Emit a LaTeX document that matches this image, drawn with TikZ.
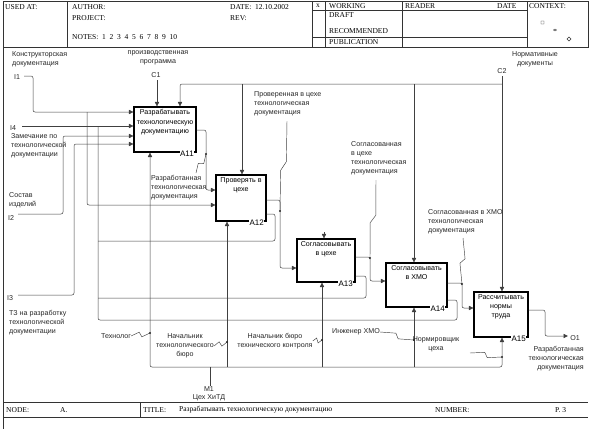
\documentclass[tikz,border=0pt]{standalone}
\usepackage{fontspec}
\setmainfont{Liberation Serif}
\newfontfamily\sansfam{Liberation Sans}
\usetikzlibrary{arrows.meta,calc,positioning}

\newcommand\lblsize{\sansfam\fontsize{7.1}{9.2}\selectfont}
\newcommand\formsize{\fontsize{7.5}{8}\selectfont}
\newcommand\squig[2]{\draw[squiggle] (#1) -- ($(#1)!0.45!(#2)!2.5pt!90:(#2)$) -- ($(#1)!0.55!(#2)!2.5pt!-90:(#2)$) -- (#2);}

\tikzset{
  frame/.style={draw=black!80, line width=0.6pt},
  fn/.style={draw=black, line width=1.1pt, inner sep=0pt, fill=white},
  fntext/.style={anchor=north, align=center, font=\lblsize, inner sep=0pt, yshift=-3pt},
  fnnum/.style={anchor=north east, font=\sansfam\fontsize{8}{8}\selectfont, inner sep=0.6pt, fill=white},
  line/.style={draw=black!75, line width=0.5pt, rounded corners=2pt},
  flow/.style={line, -{Triangle[length=4.5pt,width=4.2pt]}},
  squiggle/.style={draw=black!75, line width=0.45pt},
  lbl/.style={font=\lblsize, inner sep=0pt, text=black!85},
  form/.style={font=\formsize, inner sep=0pt, anchor=west},
  dot/.style={fill=black!85}
}

\begin{document}
\begin{tikzpicture}[x=1pt,y=-1pt]
\useasboundingbox (0,0) rectangle (590,429);

% form
\draw[frame] (3,1) rectangle (588,47);
\draw[frame] (67,1) -- (67,47) (312,1) -- (312,47) (325,1) -- (325,47) (402,1) -- (402,47) (527,1) -- (527,47);
\draw[frame] (312,10) -- (527,10) (312,37) -- (527,37);
\draw[frame] (3,47) -- (3,429);
\draw[frame] (3,402) -- (588,402) (3,417) -- (588,417) (140,402) -- (140,417);

\node[form] (usedat) at (5,7) {USED AT:};
\node[form] (author) at (72,7) {AUTHOR:};
\node[form] (date) at (230,7) {DATE:\ \ 12.10.2002};
\node[form] (project) at (72,18) {PROJECT:};
\node[form] (rev) at (230,18) {REV:};
\node[form] (notes) at (72,37) {NOTES:\ \ 1\ \ 2\ \ 3\ \ 4\ \ 5\ \ 6\ \ 7\ \ 8\ \ 9\ \ 10};
\node[form] (xmark) at (316,6) {x};
\node[form] (working) at (329,6) {WORKING};
\node[form] (reader) at (405,6) {READER};
\node[form] (rdate) at (497,6) {DATE};
\node[form] (draft) at (329,15) {DRAFT};
\node[form] (recom) at (329,31) {RECOMMENDED};
\node[form] (publ) at (329,42) {PUBLICATION};
\node[form] (context) at (529,6) {CONTEXT:};
\draw[frame, line width=0.4pt] (541,21) rectangle (544,24) (555,30) ellipse (1.6 and 1)
  (569,37) -- (571,39) -- (569,41) -- (567,39) -- cycle;

\node[form] (fnode) at (6,410) {NODE:};
\node[form] (fnodeval) at (60,410) {A.};
\node[form] (ftitle) at (143,410) {TITLE:};
\node[form] (ftitleval) at (179,410) {Разрабатывать технологическую документацию};
\node[form] (fnumber) at (435,410) {NUMBER:};
\node[form] (fpage) at (555,410) {P. 3};

% boxes
\node[fn, minimum width=62, minimum height=45] (A11) at (165,129.5) {};
\node[fn, minimum width=50, minimum height=46] (A12) at (241,198) {};
\node[fn, minimum width=58, minimum height=43] (A13) at (326,260.5) {};
\node[fn, minimum width=61, minimum height=44] (A14) at (416.5,285) {};
\node[fn, minimum width=54, minimum height=45] (A15) at (501,314.5) {};

\node[fntext] (A11t) at (A11.north) {Разрабатывать\\технологическую\\документацию};
\node[fntext] (A12t) at (A12.north) {Проверять в\\цехе};
\node[fntext] (A13t) at (A13.north) {Согласовывать\\в цехе};
\node[fntext] (A14t) at (A14.north) {Согласовывать\\в ХМО};
\node[fntext] (A15t) at (A15.north) {Рассчитывать\\нормы\\труда};

\node[fnnum] (A11n) at ([xshift=-2pt,yshift=2pt]A11.south east) {A11};
\node[fnnum] (A12n) at ([xshift=-2pt,yshift=2pt]A12.south east) {A12};
\node[fnnum] (A13n) at ([xshift=-2pt,yshift=2pt]A13.south east) {A13};
\node[fnnum] (A14n) at ([xshift=-2pt,yshift=2pt]A14.south east) {A14};
\node[fnnum] (A15n) at ([xshift=-2pt,yshift=2pt]A15.south east) {A15};

% boundary arrows
\coordinate (i1) at (24,76);
\coordinate (i4) at (22,126);
\coordinate (i2) at (18,214);
\coordinate (i3) at (18,295);
\coordinate (c1) at (157,80);
\coordinate (c2) at (502,76);
\coordinate (m1) at (210,386);
\coordinate (o1) at (568,336);

\node[lbl, anchor=north west, align=left] (i1t) at (12,51) {Конструкторская\\документация};
\node[lbl] (i1n) at (17,77) {I1};
\node[lbl] (i4n) at (13,128) {I4};
\node[lbl, anchor=north west, align=left] (i4t) at (11,133) {Замечание по\\технологической\\документации};
\node[lbl, anchor=north west, align=left] (i2t) at (9,192) {Состав\\изделий};
\node[lbl] (i2n) at (11,218) {I2};
\node[lbl] (i3n) at (10,298) {I3};
\node[lbl, anchor=north west, align=left] (i3t) at (9,310) {ТЗ на разработку\\технологической\\документации};
\node[lbl, align=center] (c1t) at (158,58) {производственная\\программа};
\node[lbl] (c1n) at (156,75) {C1};
\node[lbl, align=center] (c2t) at (535,59) {Нормативные\\документы};
\node[lbl] (c2n) at (502,71) {C2};
\node[lbl] (m1n) at (209,389) {M1};
\node[lbl] (m1t) at (209,398) {Цех ХиТД};
\node[lbl] (o1n) at (575,338) {O1};
\node[lbl, anchor=north east, align=right] (o1t) at (584,346) {Разработанная\\технологическая\\документация};

% inputs
\draw[flow] (i1) -- (33,76) |- (A11.west |- 0,112);
\draw[flow] (87,112) |- (A12.west |- 0,205);
\draw[flow] (i4) -- (A11.west |- 0,126);
\draw[flow] (i2) -- (63,214) |- (A11.west |- 0,136);
\draw[flow] (i3) -- (74,295) |- (A11.west |- 0,144);

% returns to A11
\draw[line] (A14.east |- 0,300) -- (457,300) |- (98,320) -- (98,126);
\draw[line] (A13.east |- 0,276) -- (366,276) |- (98,298);
\draw[line] (A12.east |- 0,214) -- (275,214) |- (98,241);

% outputs
\draw[flow] (A11.east |- 0,130) -- (206,130) |- (A12.west |- 0,190);
\draw[flow] (A12.east |- 0,200) -- (280,200) |- (A13.west |- 0,268);
\draw[flow] (A13.east |- 0,257) -- (370,257) |- (A14.west |- 0,281);
\draw[flow] (A14.east |- 0,283) -- (462,283) |- (A15.west |- 0,308);
\draw[flow] (A15.east |- 0,310) -- (545,310) |- (o1);

% controls
\draw[flow] (c1) -- (c1 |- A11.north);
\draw[flow] (c2) -- (c2 |- A15.north);
\draw[flow] (c2 |- 0,84) -| (A11.north -| 180,0);
\draw[flow] (242,84) -- (A12.north -| 242,0);
\draw[flow] (414,84) -- (A14.north -| 414,0);
\draw[flow] (324,232) -- (A13.north -| 324,0);

% mechanisms
\draw[line] (m1) -- (m1 |- 0,367);
\draw[flow] (m1 |- 0,367) -| (A11.south -| 150,0);
\draw[flow] (m1 |- 0,367) -| (A15.south -| 502,0);
\draw[flow] (227,367) -- (A12.south -| 227,0);
\draw[flow] (322,367) -- (A13.south -| 322,0);
\draw[flow] (414,367) -- (A14.south -| 414,0);

% arrow labels
\node[lbl, anchor=north west, align=left] (outA11) at (151,175) {Разработанная\\технологическая\\документация};
\node[lbl, anchor=north west, align=left] (outA12) at (254,91) {Проверенная в цехе\\технологическая\\документация};
\node[lbl, anchor=north west, align=left] (outA13) at (351,141) {Согласованная\\в цехе\\технологическая\\документация};
\node[lbl, anchor=north west, align=left] (outA14) at (428,209) {Согласованная в ХМО\\технологическая\\документация};
\node[lbl] (tech) at (116,336) {Технолог};
\node[lbl, align=center] (boss1) at (185,346) {Начальник\\технологического\\бюро};
\node[lbl, align=center] (boss2) at (275,341) {Начальник бюро\\технического контроля};
\node[lbl] (eng) at (356,332) {Инженер ХМО};
\node[lbl, align=center] (norm) at (436,344) {Нормировщик\\цеха};

\coordinate (dA11) at (206,154);
\coordinate (dA12) at (280,211);
\coordinate (dA13) at (370,258);
\coordinate (dA14) at (462,284);
\coordinate (dTech) at (150,333);
\coordinate (dBoss1) at (227,342);
\coordinate (dBoss2) at (322,340);
\coordinate (dEng) at (414,340);
\coordinate (dNorm) at (502,357);

\squig{196,173}{dA11}
\squig{287,121}{dA12}
\squig{376,180}{dA13}
\squig{463,238}{dA14}
\squig{tech.east}{dTech}
\squig{boss1.east}{dBoss1}
\squig{boss2.east}{dBoss2}
\squig{eng.east}{dEng}
\squig{470,353}{dNorm}

\foreach \d in {dA11,dA12,dA13,dA14,dTech,dBoss1,dBoss2,dEng,dNorm}
  \fill[dot] (\d) circle (1.1pt);
\end{tikzpicture}
\end{document}
